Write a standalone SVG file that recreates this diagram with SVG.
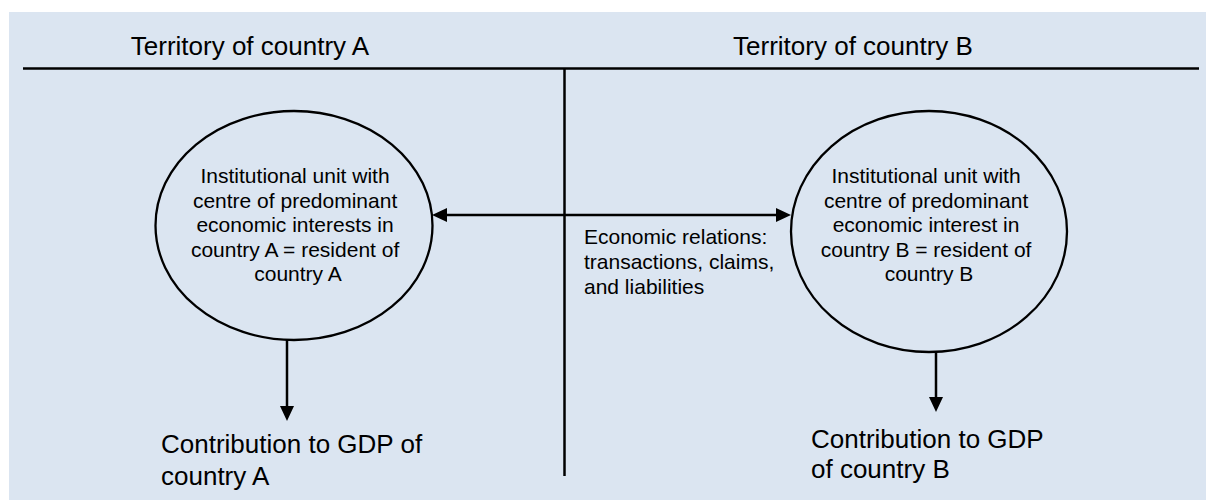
<svg xmlns="http://www.w3.org/2000/svg" width="1206" height="500" viewBox="0 0 1206 500">
  <style>
    .bg { fill: #dbe5f1; }
    .rule { stroke: #000; stroke-width: 2.5; fill: none; }
    .node { fill: none; stroke: #000; stroke-width: 2.3; }
    .conn { stroke: #000; stroke-width: 2.5; fill: none; }
    text { font-family: "Liberation Sans", Arial, sans-serif; fill: #000; }
    .title { font-size: 26px; text-anchor: middle; }
    .inner { font-size: 21px; text-anchor: middle; }
    .label { font-size: 21px; }
    .big { font-size: 26px; }
  </style>
  <defs>
    <marker id="arrow" viewBox="0 0 15 14" refX="3" refY="7" markerWidth="15" markerHeight="14" markerUnits="userSpaceOnUse" orient="auto-start-reverse">
      <path d="M0,0 L15,7 L0,14 z" fill="#000"/>
    </marker>
  </defs>

  <rect class="bg" x="9" y="12" width="1197" height="488"/>

  <g id="frame">
    <line class="rule" x1="23" y1="68.5" x2="1199" y2="68.5"/>
    <line class="rule" x1="564.5" y1="68" x2="564.5" y2="476"/>
    <text class="title" x="250" y="55">Territory of country A</text>
    <text class="title" x="853" y="55">Territory of country B</text>
  </g>

  <g id="unitA">
    <ellipse class="node" cx="294" cy="225.5" rx="138.5" ry="114.5"/>
    <text class="inner">
      <tspan x="298" y="183">Institutional unit with</tspan>
      <tspan x="298" y="207.5">centre of predominant</tspan>
      <tspan x="298" y="232">economic interests in</tspan>
      <tspan x="298" y="256.5">country A = resident of</tspan>
      <tspan x="298" y="281">country A</tspan>
    </text>
  </g>

  <g id="unitB">
    <ellipse class="node" cx="929" cy="231.5" rx="138" ry="120.5"/>
    <text class="inner">
      <tspan x="929" y="183">Institutional unit with</tspan>
      <tspan x="929" y="207.5">centre of predominant</tspan>
      <tspan x="929" y="232">economic interest in</tspan>
      <tspan x="929" y="256.5">country B = resident of</tspan>
      <tspan x="929" y="281">country B</tspan>
    </text>
  </g>

  <g id="relations">
    <text class="label">
      <tspan x="584" y="244">Economic relations:</tspan>
      <tspan x="584" y="269">transactions, claims,</tspan>
      <tspan x="584" y="293.5">and liabilities</tspan>
    </text>
  </g>

  <g id="gdpA">
    <text class="big">
      <tspan x="161" y="452.5">Contribution to GDP of</tspan>
      <tspan x="161" y="485">country A</tspan>
    </text>
  </g>

  <g id="gdpB">
    <text class="big">
      <tspan x="811" y="447.5">Contribution to GDP</tspan>
      <tspan x="811" y="477.5">of country B</tspan>
    </text>
  </g>

  <g id="connectors">
    <line class="conn" x1="444" y1="215" x2="779" y2="215" marker-start="url(#arrow)" marker-end="url(#arrow)"/>
    <line class="conn" x1="287" y1="340" x2="287" y2="409" marker-end="url(#arrow)"/>
    <line class="conn" x1="936" y1="352" x2="936" y2="400" marker-end="url(#arrow)"/>
  </g>
</svg>
